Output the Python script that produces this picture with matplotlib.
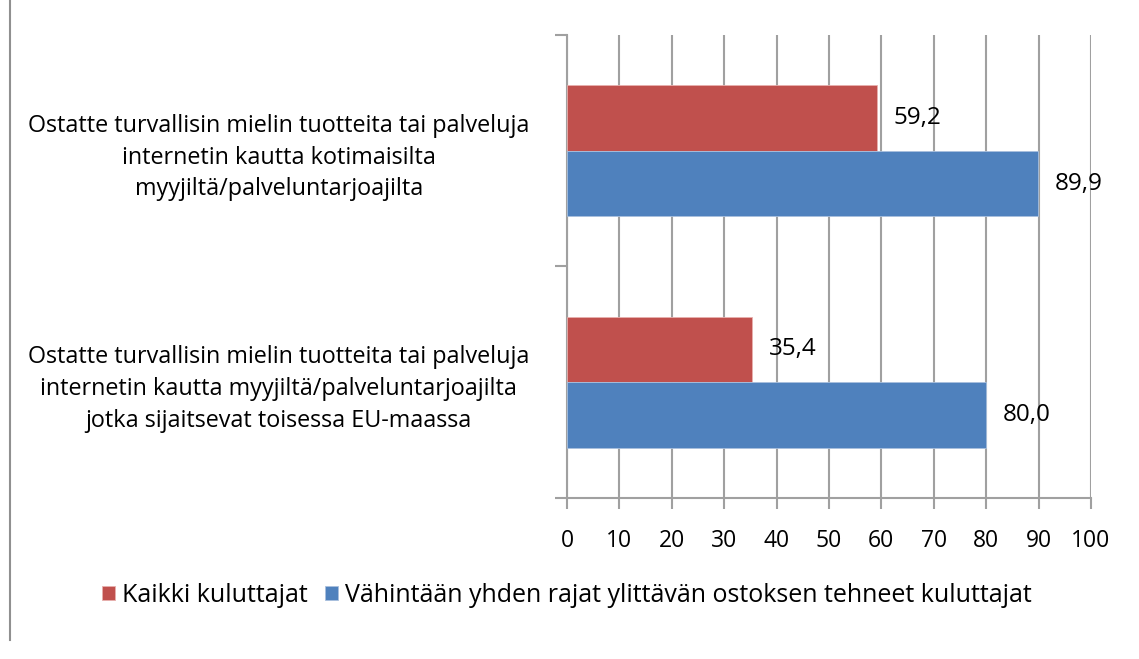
import numpy as np
import matplotlib
matplotlib.use('Agg')
import matplotlib.pyplot as plt
from matplotlib.lines import Line2D

plt.rcParams['font.family'] = ['Open Sans', 'DejaVu Sans']

kysymykset = [
    'Ostatte turvallisin mielin tuotteita tai palveluja\ninternetin kautta kotimaisilta\nmyyjiltä/palveluntarjoajilta',
    'Ostatte turvallisin mielin tuotteita tai palveluja\ninternetin kautta myyjiltä/palveluntarjoajilta\njotka sijaitsevat toisessa EU-maassa',
]
sarjat = ['Kaikki kuluttajat', 'Vähintään yhden rajat ylittävän ostoksen tehneet kuluttajat']
kaikki = np.array([59.2, 35.4])
vahintaan = np.array([89.9, 80.0])
xticks = np.arange(0, 101, 10)

punainen = '#C0504D'
sininen = '#4F81BD'
harmaa = '#A0A0A0'

fig = plt.figure(figsize=(11.39, 6.59), dpi=100)
ax = fig.add_axes([0.4978, 0.2443, 0.4600, 0.7026])

y = np.arange(len(kysymykset))
h = 0.284
ax.barh(y - h / 2, kaikki, height=h, color=punainen, edgecolor='#E8B0AE', linewidth=0.6,
        label=sarjat[0], zorder=3)
ax.barh(y + h / 2, vahintaan, height=h, color=sininen, edgecolor='#A9C0DE', linewidth=0.6,
        label=sarjat[1], zorder=3)

for i in range(len(y)):
    ax.text(kaikki[i] + 3.1, y[i] - h / 2, f'{kaikki[i]:.1f}'.replace('.', ','),
            va='center', ha='left', fontsize=17.5, color='black', zorder=4)
    ax.text(vahintaan[i] + 3.1, y[i] + h / 2, f'{vahintaan[i]:.1f}'.replace('.', ','),
            va='center', ha='left', fontsize=17.5, color='black', zorder=4)

ax.set_xlim(0, 100)
ax.set_ylim(len(y) - 0.5, -0.5)
ax.set_xticks(xticks)
ax.set_xticklabels([str(t) for t in xticks], fontsize=16.5)
ax.set_yticks(y)
ax.set_yticklabels(kysymykset, fontsize=16.8, multialignment='center', linespacing=1.42)
ax.set_yticks([-0.5, 0.5, 1.5], minor=True)
ax.tick_params(axis='y', which='major', length=0, pad=27)
ax.tick_params(axis='y', which='minor', length=9, width=1.5, color=harmaa)
ax.tick_params(axis='x', length=8, width=1.5, color=harmaa, pad=14)

ax.grid(axis='x', color=harmaa, linewidth=1.5, zorder=0)
ax.set_axisbelow(True)
for s in ['top', 'right']:
    ax.spines[s].set_visible(False)
for s in ['left', 'bottom']:
    ax.spines[s].set_color(harmaa)
    ax.spines[s].set_linewidth(1.5)

leg = fig.legend(loc='center', bbox_to_anchor=(0.498, 0.097), ncol=2, frameon=False,
                 fontsize=18, handlelength=0.5, handleheight=0.5, handletextpad=0.3,
                 columnspacing=0.7)

fig.add_artist(Line2D([10 / 1139, 10 / 1139], [1.0, 1 - 640 / 659],
                      transform=fig.transFigure, color='#909090', linewidth=1.5))

fig.savefig('out.png', dpi=100)
